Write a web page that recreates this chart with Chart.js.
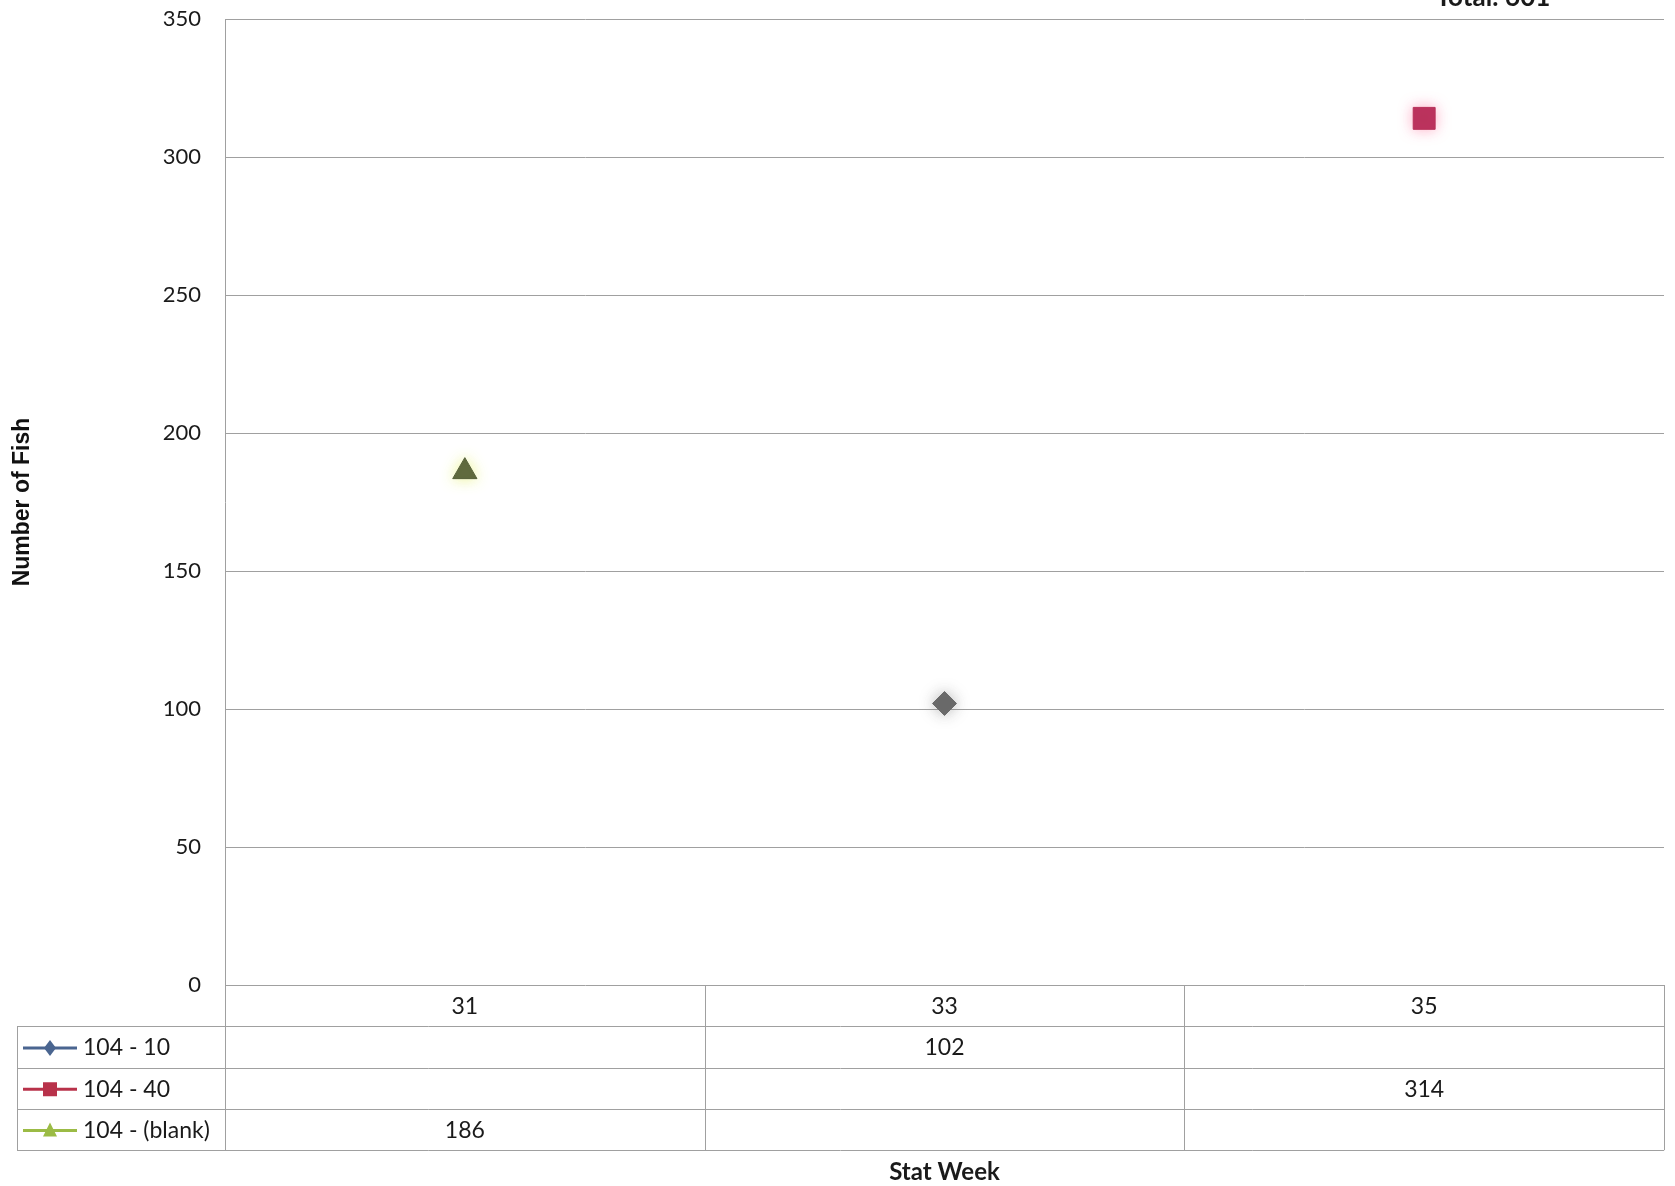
<!DOCTYPE html>
<html>
<head>
<meta charset="utf-8">
<script src="https://cdn.jsdelivr.net/npm/chart.js@4"></script>
<style>
  html, body { margin: 0; padding: 0; background: #fff; }
  canvas { display: block; }
</style>
</head>
<body>
<canvas id="fishChart" width="1675" height="1186"></canvas>
<script>
// data
const weeks = ['31', '33', '35'];
const seriesNames = ['104 - 10', '104 - 40', '104 - (blank)'];
const area10 = [null, 102, null];
const area40 = [null, null, 314];
const areaBlank = [186, null, null];
const yTicks = [0, 50, 100, 150, 200, 250, 300, 350];
const totalLabel = 'Total: 601';

// warna
const lineColors = ['#4a6590', '#b8324a', '#9bbb45'];
const markerColors = ['#6a6a6a', '#b8305a', '#56603a'];
const glowColors = ['rgba(120,120,120,0.5)', 'rgba(255,120,160,0.6)', 'rgba(230,240,120,0.8)'];
const markerStyles = ['rectRot', 'rect', 'triangle'];

const gridColor = '#a0a0a0';
const textFont = 'Lato, "Liberation Sans", sans-serif';

// gambar tabel data + judul
const tablePlugin = {
    id: 'dataTable',
    beforeDatasetDraw(chart, args) {
        const ctx = chart.ctx;
        ctx.save();
        ctx.shadowColor = glowColors[args.index];
        ctx.shadowBlur = 14;
    },
    afterDatasetDraw(chart) {
        chart.ctx.restore();
    },
    afterDraw(chart) {
        const ctx = chart.ctx;
        const area = chart.chartArea;
        const xs = chart.scales.x;
        const rowH = 41.3;
        const tableLeft = 17;
        const top = area.bottom;
        const bottom = top + rowH * 4;

        ctx.save();
        ctx.strokeStyle = gridColor;
        ctx.lineWidth = 1;

        // garis horizontal
        for (let r = 1; r <= 4; r++) {
            const y = Math.round(top + rowH * r) + 0.5;
            ctx.beginPath();
            ctx.moveTo(tableLeft, y);
            ctx.lineTo(area.right, y);
            ctx.stroke();
        }
        // garis vertikal
        const colEdges = [area.left];
        const step = xs.getPixelForValue(1) - xs.getPixelForValue(0);
        weeks.forEach((w, i) => colEdges.push(xs.getPixelForValue(i) + step / 2));
        colEdges.forEach(x => {
            const xx = Math.round(x) + 0.5;
            ctx.beginPath();
            ctx.moveTo(xx, top);
            ctx.lineTo(xx, bottom);
            ctx.stroke();
        });
        ctx.beginPath();
        ctx.moveTo(tableLeft + 0.5, top + rowH);
        ctx.lineTo(tableLeft + 0.5, bottom);
        ctx.stroke();

        // header minggu
        ctx.fillStyle = '#1a1a1a';
        ctx.font = '23px ' + textFont;
        ctx.textAlign = 'center';
        ctx.textBaseline = 'middle';
        weeks.forEach((w, i) => {
            ctx.fillText(w, xs.getPixelForValue(i), top + rowH / 2 + 1);
        });

        // baris seri
        chart.data.datasets.forEach((ds, r) => {
            const cy = top + rowH * (r + 1.5) + 1;
            ds.data.forEach((v, i) => {
                if (v !== null) {
                    ctx.textAlign = 'center';
                    ctx.fillText(String(v), xs.getPixelForValue(i), cy);
                }
            });

            // contoh legenda
            ctx.strokeStyle = lineColors[r];
            ctx.lineWidth = 3;
            ctx.beginPath();
            ctx.moveTo(23, cy);
            ctx.lineTo(77, cy);
            ctx.stroke();
            ctx.fillStyle = lineColors[r];
            const mx = 50;
            ctx.beginPath();
            if (r === 0) {
                ctx.moveTo(mx, cy - 8); ctx.lineTo(mx + 6, cy); ctx.lineTo(mx, cy + 8); ctx.lineTo(mx - 6, cy);
            } else if (r === 1) {
                ctx.rect(mx - 7, cy - 7, 14, 14);
            } else {
                ctx.moveTo(mx, cy - 8); ctx.lineTo(mx + 7, cy + 6); ctx.lineTo(mx - 7, cy + 6);
            }
            ctx.closePath();
            ctx.fill();

            ctx.fillStyle = '#1a1a1a';
            ctx.textAlign = 'left';
            ctx.fillText(seriesNames[r], 83, cy);
        });

        // judul sumbu x
        ctx.font = 'bold 24px ' + textFont;
        ctx.textAlign = 'center';
        ctx.fillText('Stat Week', (area.left + area.right) / 2, 1172);

        // total
        ctx.textBaseline = 'alphabetic';
        ctx.font = 'bold 26px ' + textFont;
        ctx.fillText(totalLabel, 1493, 6);
        ctx.restore();
    }
};

const makeSet = (i, arr) => ({
    label: seriesNames[i],
    data: arr,
    showLine: false,
    borderColor: lineColors[i],
    backgroundColor: markerColors[i],
    pointStyle: markerStyles[i],
    pointBackgroundColor: markerColors[i],
    pointBorderColor: markerColors[i],
    pointBorderWidth: 1,
    pointRadius: [12, 15.5, 14][i],
    pointHoverRadius: [12, 15.5, 14][i]
});

const config = {
    type: 'line',
    data: {
        labels: weeks,
        datasets: [
            makeSet(0, area10),
            makeSet(1, area40),
            makeSet(2, areaBlank)
        ]
    },
    options: {
        responsive: false,
        animation: false,
        devicePixelRatio: 1,
        layout: {
            autoPadding: false,
            padding: { left: 0, top: 19, right: 11, bottom: 201 }
        },
        plugins: {
            legend: { display: false },
            tooltip: { enabled: false }
        },
        scales: {
            x: {
                display: false,
                offset: true
            },
            y: {
                min: 0,
                max: 350,
                afterFit: scale => {
                    scale.width = 225;
                    scale.paddingTop = 0;
                    scale.paddingBottom = 0;
                },
                afterBuildTicks: scale => { scale.ticks = yTicks.map(v => ({ value: v })); },
                grid: { color: gridColor, drawTicks: false },
                border: { display: true, color: gridColor },
                ticks: {
                    padding: 24,
                    color: '#1a1a1a',
                    font: { family: textFont, size: 22 }
                },
                title: {
                    display: true,
                    text: 'Number of Fish',
                    color: '#111',
                    padding: { top: 9, bottom: 0 },
                    font: { family: '"Liberation Sans", Arial, sans-serif', size: 23, weight: 'bold' }
                }
            }
        }
    },
    plugins: [tablePlugin]
};

const myChart = new Chart(document.getElementById('fishChart'), config);
</script>
</body>
</html>
